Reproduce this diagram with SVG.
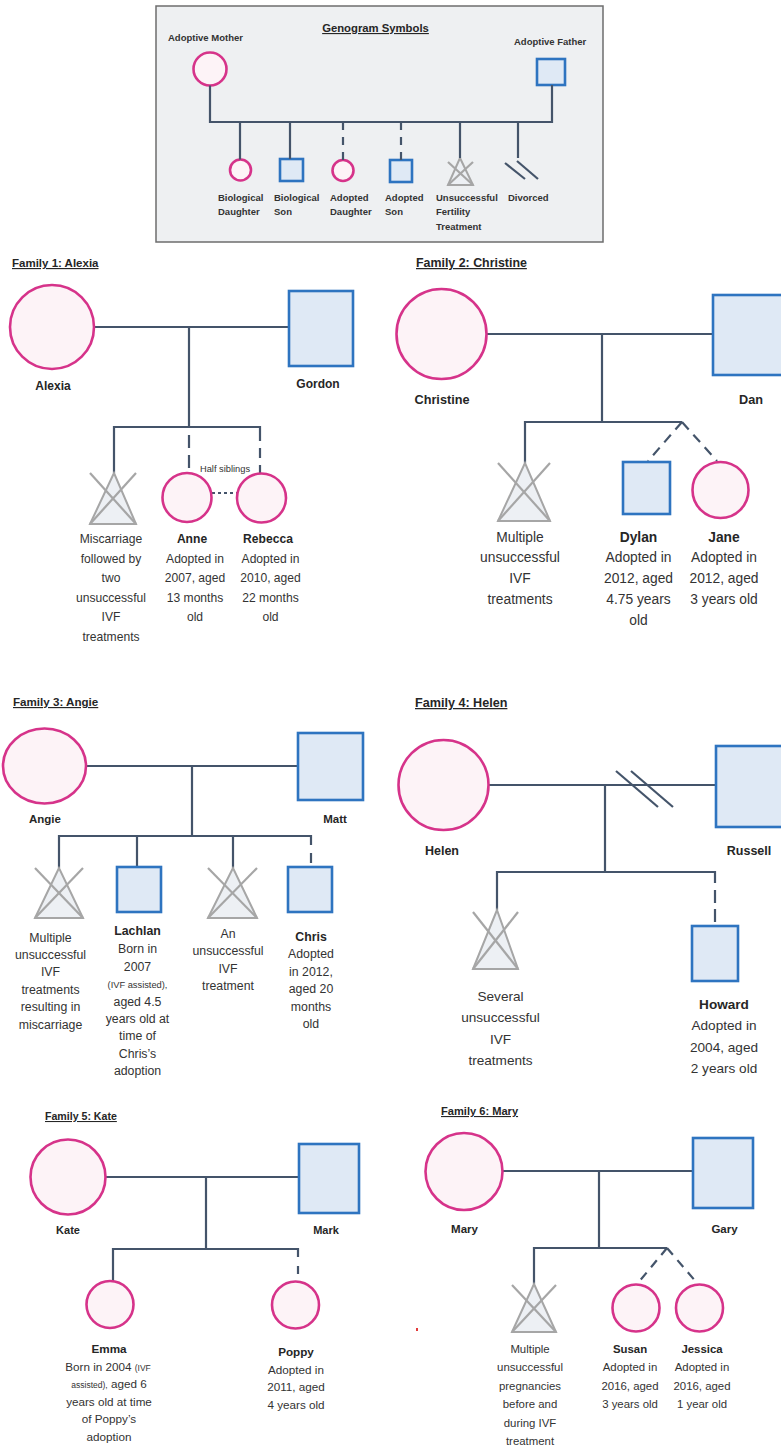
<svg xmlns="http://www.w3.org/2000/svg" width="781" height="1449" viewBox="0 0 781 1449">
<style>
.ln{stroke:#44546a;stroke-width:2.2;fill:none}
.dl{stroke:#44546a;stroke-width:2.2;fill:none;stroke-dasharray:8 7}
.f{fill:#fdf3f7;stroke:#d6338a;stroke-width:2.6}
.m{fill:#dfe9f5;stroke:#2e74c0;stroke-width:2.6}
.tri{fill:#edf0f4;stroke:#a6a6a6;stroke-width:2}
.x{stroke:#a6a6a6;stroke-width:2.2}
text{font-family:"Liberation Sans",Arial,sans-serif;fill:#333333}
.b{font-weight:bold;fill:#262626}
.c{text-anchor:middle}
.ttl{font-weight:bold;text-decoration:underline;fill:#262626}
.lg{font-weight:bold;font-size:9.5px;fill:#333}
.s1{font-size:12.1px}.s2{font-size:13.8px}.s3{font-size:12.3px}.s4{font-size:13.6px}.s5{font-size:11.7px}.s6{font-size:11.4px}
.sm{font-size:8.5px}
</style>
<rect width="781" height="1449" fill="#ffffff"/>

<!-- Legend -->
<g id="legend">
<rect x="156" y="6" width="447" height="236" fill="#eef0f2" stroke="#6d6d6d" stroke-width="1.5"/>
<text x="375.5" y="32" class="ttl c" style="font-size:11.3px">Genogram Symbols</text>
<g id="lg-mother"><circle cx="210" cy="69" r="16.5" class="f"/><text x="168" y="40.5" class="lg">Adoptive Mother</text></g>
<g id="lg-father"><rect x="537" y="59" width="28" height="26" class="m"/><text x="514" y="45" class="lg">Adoptive Father</text></g>
<g id="lg-biodaughter"><circle cx="240.5" cy="170" r="10.5" class="f"/><text x="218" y="200.5" class="lg">Biological<tspan x="218" dy="14.5">Daughter</tspan></text></g>
<g id="lg-bioson"><rect x="280" y="159" width="23" height="22" class="m"/><text x="274" y="200.5" class="lg">Biological<tspan x="274" dy="14.5">Son</tspan></text></g>
<g id="lg-addaughter"><circle cx="343" cy="170.5" r="10.5" class="f"/><text x="330" y="200.5" class="lg">Adopted<tspan x="330" dy="14.5">Daughter</tspan></text></g>
<g id="lg-adson"><rect x="390" y="160" width="22" height="22" class="m"/><text x="385" y="200.5" class="lg">Adopted<tspan x="385" dy="14.5">Son</tspan></text></g>
<g id="lg-unsuccessful"><polygon points="460,158 448,185 473,185" class="tri"/><line x1="448" y1="162" x2="473" y2="185" class="x"/><line x1="473" y1="162" x2="448" y2="185" class="x"/><text x="436" y="200.5" class="lg">Unsuccessful<tspan x="436" dy="14.5">Fertility</tspan><tspan x="436" dy="14.5">Treatment</tspan></text></g>
<g id="lg-divorced"><line x1="505" y1="163" x2="525" y2="179" class="ln"/><line x1="517" y1="161" x2="538" y2="179" class="ln"/><text x="508" y="200.5" class="lg">Divorced</text></g>
<g id="lg-connectors">
<polyline points="210,85.5 210,122 552,122 552,85" class="ln"/>
<line x1="240" y1="122" x2="240" y2="159.5" class="ln"/>
<line x1="290" y1="122" x2="290" y2="159" class="ln"/>
<line x1="343" y1="122" x2="343" y2="160" class="dl"/>
<line x1="401" y1="122" x2="401" y2="160" class="dl"/>
<line x1="460" y1="122" x2="460" y2="158" class="ln"/>
<line x1="518" y1="122" x2="518" y2="158" class="ln"/>
</g>
</g>

<!-- Titles -->
<text x="12" y="267" class="ttl" style="font-size:11.5px">Family 1: Alexia</text>
<text x="416" y="267" class="ttl" style="font-size:12.4px">Family 2: Christine</text>
<text x="13" y="706" class="ttl" style="font-size:11.6px">Family 3: Angie</text>
<text x="415" y="707" class="ttl" style="font-size:12.6px">Family 4: Helen</text>
<text x="45" y="1120" class="ttl" style="font-size:10.6px">Family 5: Kate</text>
<text x="441" y="1115" class="ttl" style="font-size:11.1px">Family 6: Mary</text>

<!-- Connectors -->
<g id="connectors">
<!-- F1 -->
<line x1="94" y1="327" x2="289" y2="327" class="ln"/>
<line x1="189" y1="327" x2="189" y2="427" class="ln"/>
<polyline points="114,473 114,427 260,427 260,431" class="ln"/>
<line x1="189" y1="435" x2="189" y2="470" class="ln" stroke-dasharray="13 7"/>
<line x1="260" y1="431" x2="260" y2="474" class="ln" stroke-dasharray="10 7"/>
<line x1="212" y1="493" x2="237" y2="493" class="ln" stroke-width="3" stroke-dasharray="3 3"/>
<!-- F2 -->
<line x1="487" y1="334" x2="713" y2="334" class="ln"/>
<line x1="602" y1="334" x2="602" y2="422" class="ln"/>
<polyline points="525,463 525,422 682,422" class="ln"/>
<line x1="682" y1="422" x2="648" y2="461" class="ln" stroke-dasharray="10 7"/>
<line x1="682" y1="422" x2="717" y2="461" class="ln" stroke-dasharray="10 7"/>
<!-- F3 -->
<line x1="86" y1="766" x2="298" y2="766" class="ln"/>
<line x1="192" y1="766" x2="192" y2="836" class="ln"/>
<polyline points="59,868 59,836 311,836 311,845" class="ln"/>
<line x1="137" y1="836" x2="137" y2="867" class="ln"/>
<line x1="233" y1="836" x2="233" y2="868" class="ln"/>
<line x1="311" y1="853" x2="311" y2="863" class="ln"/>
<!-- F4 -->
<line x1="489" y1="785" x2="716" y2="785" class="ln"/>
<line x1="616" y1="771" x2="658" y2="807" class="ln" stroke-width="2.6"/>
<line x1="631" y1="771" x2="673" y2="807" class="ln" stroke-width="2.6"/>
<line x1="605" y1="785" x2="605" y2="872" class="ln"/>
<polyline points="497,910 497,872 715,872 715,883" class="ln"/>
<line x1="715" y1="890" x2="715" y2="922" class="ln" stroke-dasharray="13 6"/>
<!-- F5 -->
<line x1="106" y1="1177" x2="299" y2="1177" class="ln"/>
<line x1="206" y1="1177" x2="206" y2="1249" class="ln"/>
<polyline points="113,1282 113,1249 298,1249 298,1257" class="ln"/>
<line x1="298" y1="1266" x2="298" y2="1274" class="ln"/>
<!-- F6 -->
<line x1="502" y1="1171" x2="693" y2="1171" class="ln"/>
<line x1="599" y1="1171" x2="599" y2="1248" class="ln"/>
<polyline points="534,1284 534,1248 667,1248" class="ln"/>
<line x1="667" y1="1248" x2="638" y2="1283" class="ln" stroke-dasharray="9 7"/>
<line x1="667" y1="1248" x2="697" y2="1283" class="ln" stroke-dasharray="9 7"/>
</g>

<!-- Family 1 -->
<g id="alexia"><circle cx="52" cy="327" r="42" class="f"/><text x="53" y="390" class="b c" style="font-size:12px">Alexia</text></g>
<g id="gordon"><rect x="289" y="291" width="64" height="75" class="m"/><text x="318" y="388" class="b c" style="font-size:12px">Gordon</text></g>
<g id="f1-miscarriage"><polygon points="114,473 90,524 136,524" class="tri"/><line x1="90" y1="473" x2="136" y2="524" class="x"/><line x1="136" y1="473" x2="90" y2="524" class="x"/>
<text class="s1 c" x="111" y="543">Miscarriage<tspan x="111" dy="19.6">followed by</tspan><tspan x="111" dy="19.6">two</tspan><tspan x="111" dy="19.6">unsuccessful</tspan><tspan x="111" dy="19.6">IVF</tspan><tspan x="111" dy="19.6">treatments</tspan></text></g>
<g id="anne"><circle cx="187" cy="497.5" r="24.5" class="f"/><text class="s1 c" x="192" y="543"><tspan class="b">Anne</tspan><tspan x="195" dy="19.6">Adopted in</tspan><tspan x="195" dy="19.6">2007, aged</tspan><tspan x="195" dy="19.6">13 months</tspan><tspan x="195" dy="19.6">old</tspan></text></g>
<g id="rebecca"><circle cx="261.5" cy="498" r="24.5" class="f"/><text class="s1 c" x="268" y="543"><tspan class="b">Rebecca</tspan><tspan x="270.5" dy="19.6">Adopted in</tspan><tspan x="270.5" dy="19.6">2010, aged</tspan><tspan x="270.5" dy="19.6">22 months</tspan><tspan x="270.5" dy="19.6">old</tspan></text></g>
<text x="225" y="472" class="c" style="font-size:9.3px">Half siblings</text>

<!-- Family 2 -->
<g id="christine"><circle cx="441.5" cy="334" r="45" class="f"/><text x="442" y="404" class="b c" style="font-size:12.7px">Christine</text></g>
<g id="dan"><rect x="713" y="295" width="80" height="80" class="m"/><text x="751" y="404" class="b c" style="font-size:12.7px">Dan</text></g>
<g id="f2-ivf"><polygon points="525,463 498,521 550,521" class="tri"/><line x1="498" y1="463" x2="550" y2="521" class="x"/><line x1="550" y1="463" x2="498" y2="521" class="x"/>
<text class="s2 c" x="520" y="541.5">Multiple<tspan x="520" dy="20.8">unsuccessful</tspan><tspan x="520" dy="20.8">IVF</tspan><tspan x="520" dy="20.8">treatments</tspan></text></g>
<g id="dylan"><rect x="623" y="462" width="47" height="52" class="m"/><text class="s2 c" x="638.5" y="541.5"><tspan class="b">Dylan</tspan><tspan x="638.5" dy="20.8">Adopted in</tspan><tspan x="638.5" dy="20.8">2012, aged</tspan><tspan x="638.5" dy="20.8">4.75 years</tspan><tspan x="638.5" dy="20.8">old</tspan></text></g>
<g id="jane"><circle cx="720.5" cy="490" r="28" class="f"/><text class="s2 c" x="724" y="541.5"><tspan class="b">Jane</tspan><tspan x="724" dy="20.8">Adopted in</tspan><tspan x="724" dy="20.8">2012, aged</tspan><tspan x="724" dy="20.8">3 years old</tspan></text></g>

<!-- Family 3 -->
<g id="angie"><ellipse cx="44.5" cy="766" rx="41.5" ry="37.5" class="f"/><text x="45" y="822.5" class="b c" style="font-size:11.5px">Angie</text></g>
<g id="matt"><rect x="298" y="733" width="65" height="67" class="m"/><text x="335" y="822.5" class="b c" style="font-size:11.5px">Matt</text></g>
<g id="f3-ivf1"><polygon points="59,868 35,918 83,918" class="tri"/><line x1="35" y1="868" x2="83" y2="918" class="x"/><line x1="83" y1="868" x2="35" y2="918" class="x"/>
<text class="s3 c" x="50.5" y="941.5">Multiple<tspan x="50.5" dy="17.4">unsuccessful</tspan><tspan x="50.5" dy="17.4">IVF</tspan><tspan x="50.5" dy="17.4">treatments</tspan><tspan x="50.5" dy="17.4">resulting in</tspan><tspan x="50.5" dy="17.4">miscarriage</tspan></text></g>
<g id="lachlan"><rect x="117" y="867" width="44" height="45" class="m"/><text class="s3 c" x="137.5" y="934.5"><tspan class="b">Lachlan</tspan><tspan x="137.5" dy="18">Born in</tspan><tspan x="137.5" dy="18">2007</tspan><tspan x="137.5" dy="17" style="font-size:9.3px">(IVF assisted),</tspan><tspan x="137.5" dy="18">aged 4.5</tspan><tspan x="137.5" dy="17.2">years old at</tspan><tspan x="137.5" dy="17.6">time of</tspan><tspan x="137.5" dy="17.2">Chris’s</tspan><tspan x="137.5" dy="17.2">adoption</tspan></text></g>
<g id="f3-ivf2"><polygon points="233,868 208,918 257,918" class="tri"/><line x1="208" y1="868" x2="257" y2="918" class="x"/><line x1="257" y1="868" x2="208" y2="918" class="x"/>
<text class="s3 c" x="228" y="937.5">An<tspan x="228" dy="17.5">unsuccessful</tspan><tspan x="228" dy="17.5">IVF</tspan><tspan x="228" dy="17.5">treatment</tspan></text></g>
<g id="chris"><rect x="288" y="867" width="44" height="45" class="m"/><text class="s3 c" x="311" y="940.5"><tspan class="b">Chris</tspan><tspan x="311" dy="17.5">Adopted</tspan><tspan x="311" dy="17.5">in 2012,</tspan><tspan x="311" dy="17.5">aged 20</tspan><tspan x="311" dy="17.5">months</tspan><tspan x="311" dy="17.5">old</tspan></text></g>

<!-- Family 4 -->
<g id="helen"><circle cx="443.5" cy="785" r="45" class="f"/><text x="442" y="854.5" class="b c" style="font-size:12.5px">Helen</text></g>
<g id="russell"><rect x="716" y="746" width="82" height="81" class="m"/><text x="749" y="854.5" class="b c" style="font-size:12.5px">Russell</text></g>
<g id="f4-ivf"><polygon points="497,910 473,969 518,969" class="tri"/><line x1="473" y1="912" x2="518" y2="969" class="x"/><line x1="518" y1="912" x2="473" y2="969" class="x"/>
<text class="s4 c" x="500.5" y="1001">Several<tspan x="500.5" dy="21.3">unsuccessful</tspan><tspan x="500.5" dy="21.3">IVF</tspan><tspan x="500.5" dy="21.3">treatments</tspan></text></g>
<g id="howard"><rect x="692" y="926" width="46" height="55" class="m"/><text class="s4 c" x="724" y="1009"><tspan class="b">Howard</tspan><tspan x="724" dy="21.3">Adopted in</tspan><tspan x="724" dy="21.3">2004, aged</tspan><tspan x="724" dy="21.3">2 years old</tspan></text></g>

<!-- Family 5 -->
<g id="kate"><circle cx="68" cy="1177" r="37.5" class="f"/><text x="68" y="1234" class="b c" style="font-size:11px">Kate</text></g>
<g id="mark"><rect x="299" y="1144" width="60" height="69" class="m"/><text x="326" y="1234" class="b c" style="font-size:11px">Mark</text></g>
<g id="emma"><circle cx="110" cy="1304.5" r="23.5" class="f"/><text class="s5 c" x="109" y="1353"><tspan class="b">Emma</tspan><tspan x="108" dy="17.5">Born in 2004 <tspan class="sm">(IVF</tspan></tspan><tspan x="109" dy="17.5"><tspan class="sm">assisted),</tspan> aged 6</tspan><tspan x="109" dy="17.5">years old at time</tspan><tspan x="109" dy="17.5">of Poppy’s</tspan><tspan x="109" dy="17.5">adoption</tspan></text></g>
<g id="poppy"><circle cx="295.5" cy="1305" r="23.5" class="f"/><text class="s5 c" x="296" y="1356"><tspan class="b">Poppy</tspan><tspan x="296" dy="17.5">Adopted in</tspan><tspan x="296" dy="17.5">2011, aged</tspan><tspan x="296" dy="17.5">4 years old</tspan></text></g>

<!-- Family 6 -->
<g id="mary"><circle cx="464" cy="1171.5" r="38.5" class="f"/><text x="464.5" y="1232.5" class="b c" style="font-size:11.5px">Mary</text></g>
<g id="gary"><rect x="693" y="1138" width="60" height="70" class="m"/><text x="724.5" y="1232.5" class="b c" style="font-size:11.5px">Gary</text></g>
<g id="f6-ivf"><polygon points="534,1284 512,1332 556,1332" class="tri"/><line x1="512" y1="1285" x2="556" y2="1332" class="x"/><line x1="556" y1="1285" x2="512" y2="1332" class="x"/>
<text class="s6 c" x="530" y="1353">Multiple<tspan x="530" dy="18.4">unsuccessful</tspan><tspan x="530" dy="18.4">pregnancies</tspan><tspan x="530" dy="18.4">before and</tspan><tspan x="530" dy="18.4">during IVF</tspan><tspan x="530" dy="18.4">treatment</tspan></text></g>
<g id="susan"><circle cx="636" cy="1308" r="23.5" class="f"/><text class="s6 c" x="630" y="1353"><tspan class="b">Susan</tspan><tspan x="630" dy="18.4">Adopted in</tspan><tspan x="630" dy="18.4">2016, aged</tspan><tspan x="630" dy="18.4">3 years old</tspan></text></g>
<g id="jessica"><circle cx="699.5" cy="1308" r="23.5" class="f"/><text class="s6 c" x="702" y="1353"><tspan class="b">Jessica</tspan><tspan x="702" dy="18.4">Adopted in</tspan><tspan x="702" dy="18.4">2016, aged</tspan><tspan x="702" dy="18.4">1 year old</tspan></text></g>
<rect x="416" y="1328" width="2" height="3" fill="#e23a3a"/>
</svg>
